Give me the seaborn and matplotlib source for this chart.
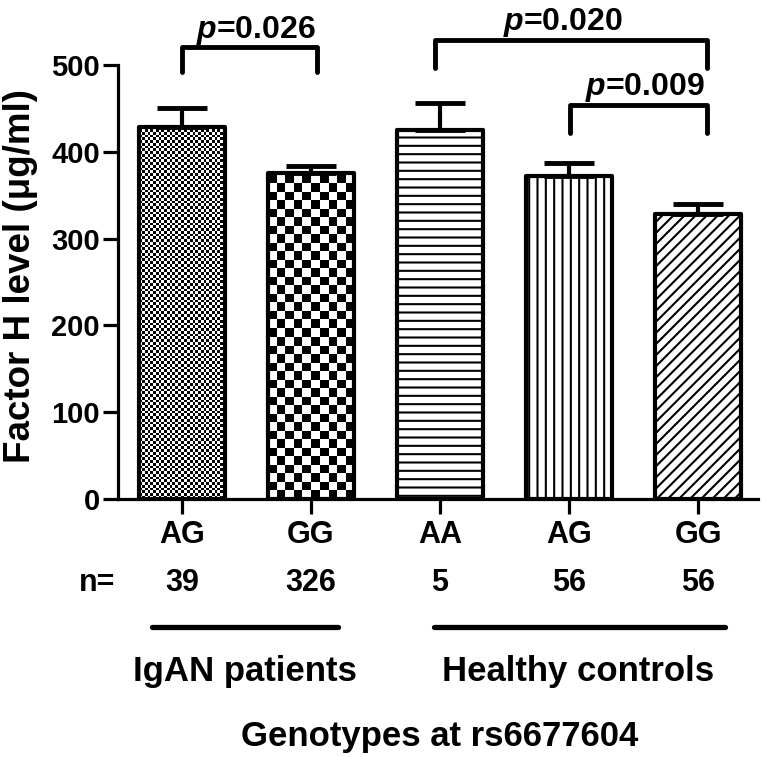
import matplotlib
matplotlib.use("Agg")
import matplotlib.pyplot as plt
import seaborn as sns
import numpy as np
import pandas as pd
from matplotlib.transforms import blended_transform_factory

# ---------------- data ----------------
bar_ids = ["IgAN_AG", "IgAN_GG", "HC_AA", "HC_AG", "HC_GG"]
genotypes = ["AG", "GG", "AA", "AG", "GG"]
n_counts = ["39", "326", "5", "56", "56"]
means = [429, 376, 425, 372, 328]
sems = [21, 8, 31, 15, 12]
patterns = ["finechecker", "checker", "--", "||", "///"]
yticks = [0, 100, 200, 300, 400, 500]
group_names = ["IgAN patients", "Healthy controls"]
group_spans = [(-0.23, 1.21), (1.95, 4.21)]
group_label_x = [0.49, 3.07]
# brackets: (x_left, x_right, y_top, y_leg_bottom, text_x, text_y, pvalue)
brackets = [
    (0.0, 1.05, 521, 492, 0.57, 531, "0.026"),
    (1.96, 4.07, 529, 497, 2.95, 540, "0.020"),
    (3.01, 4.07, 454, 422, 3.59, 466, "0.009"),
]
ylabel = "Factor H level (μg/ml)"
xlabel = "Genotypes at rs6677604"

df = pd.DataFrame({"id": bar_ids, "mean": means, "sem": sems})

# ---------------- style ----------------
sns.set_style("ticks")
plt.rcParams["font.family"] = ["Liberation Sans", "DejaVu Sans"]
plt.rcParams["font.weight"] = "bold"
plt.rcParams["hatch.linewidth"] = 1.5
plt.rcParams["mathtext.fontset"] = "custom"
plt.rcParams["mathtext.rm"] = "Liberation Sans:bold"
plt.rcParams["mathtext.it"] = "Liberation Sans:italic:bold"
plt.rcParams["mathtext.bf"] = "Liberation Sans:bold"
for k in ("text.color", "axes.labelcolor", "xtick.color", "ytick.color",
          "axes.edgecolor"):
    plt.rcParams[k] = "black"

W, H = 768, 757
fig = plt.figure(figsize=(W / 100, H / 100), dpi=100)
ax = fig.add_axes([118 / W, 1 - 499 / H, 640 / W, 434 / H])

sns.barplot(data=df, x="id", y="mean", order=bar_ids, color="white",
            edgecolor="black", linewidth=3, width=0.667, errorbar=None,
            saturation=1, ax=ax)

ax.set_ylim(0, 500)
ax.set_xlim(-0.496, 4.465)

bars = list(ax.patches)
for p, pat in zip(bars, patterns):
    p.set_facecolor("none")
    p.set_edgecolor("black")
    p.set_linewidth(3)
    p.set_joinstyle("round")
    p.set_zorder(2)
    if pat not in ("finechecker", "checker"):
        p.set_hatch(pat)

# error bars (upper only)
ax.errorbar(np.arange(len(means)), means, yerr=[np.zeros(len(sems)), sems],
            fmt="none", ecolor="black", elinewidth=3, capsize=18, capthick=3.5,
            zorder=3)

# axes styling
sns.despine(ax=ax)
for s in ("left", "bottom"):
    ax.spines[s].set_linewidth(2.3)
    ax.spines[s].set_color("black")
ax.set_yticks(yticks)
ax.set_yticklabels([str(v) for v in yticks], fontsize=21, fontweight="bold",
                   color="black")
ax.set_xticks(range(len(genotypes)))
ax.set_xticklabels(genotypes, fontsize=22, fontweight="bold", color="black")
ax.tick_params(axis="y", length=11, width=2.3, pad=2, color="black")
ax.tick_params(axis="x", length=11, width=2.3, pad=4, color="black")

ax.set_ylabel(ylabel, fontsize=26.5, fontweight="bold", va="center",
              color="black")
ax.yaxis.set_label_coords(-0.153, 0.514)
ax.set_xlabel(xlabel, fontsize=25, fontweight="bold", va="center",
              color="black")
ax.xaxis.set_label_coords(0.503, -0.548)

trans = blended_transform_factory(ax.transData, fig.transFigure)

def fy(ypix):
    return 1 - ypix / H

# n row
ax.text(-0.66, fy(583), "n=", transform=trans, ha="center", va="center",
        fontsize=22, fontweight="bold", color="black")
for i, n in enumerate(n_counts):
    ax.text(i, fy(583), n, transform=trans, ha="center", va="center",
            fontsize=22, fontweight="bold", color="black")

# group lines and labels
for (x0, x1), name, lx in zip(group_spans, group_names, group_label_x):
    ax.plot([x0, x1], [fy(627), fy(627)], transform=trans, color="black",
            lw=3.8, solid_capstyle="round", clip_on=False)
    ax.text(lx, fy(671), name, transform=trans, ha="center", va="center",
            fontsize=25, fontweight="bold", color="black")

# significance brackets
for x0, x1, yt, yb, tx, ty, pv in brackets:
    ax.plot([x0, x0, x1, x1], [yb, yt, yt, yb], color="black", lw=3.5,
            solid_capstyle="round", solid_joinstyle="round", clip_on=False)
    ax.text(tx, ty, r"$p$=" + pv, ha="center", va="baseline", fontsize=23,
            fontweight="bold", clip_on=False, color="black")

# checker textures for the IgAN bars
fig.canvas.draw()
for p, pat in zip(bars, patterns):
    if pat in ("finechecker", "checker"):
        cell = 2.75 if pat == "finechecker" else 8.5
        bb = p.get_window_extent()
        wpx = max(int(round(bb.width)), 1)
        hpx = max(int(round(bb.height)), 1)
        yy, xx = np.mgrid[0:hpx, 0:wpx]
        arr = ((np.floor(xx / cell) + np.floor(yy / cell)) % 2).astype(float)
        x0 = p.get_x()
        x1 = x0 + p.get_width()
        y1 = p.get_height()
        im = ax.imshow(arr, cmap="gray_r", vmin=0, vmax=1, origin="lower",
                       extent=[x0, x1, 0, y1], aspect="auto",
                       interpolation="nearest", zorder=1)
        im.set_clip_path(p)

ax.set_xlim(-0.496, 4.465)
ax.set_ylim(0, 500)

fig.savefig("out.png", dpi=100)
